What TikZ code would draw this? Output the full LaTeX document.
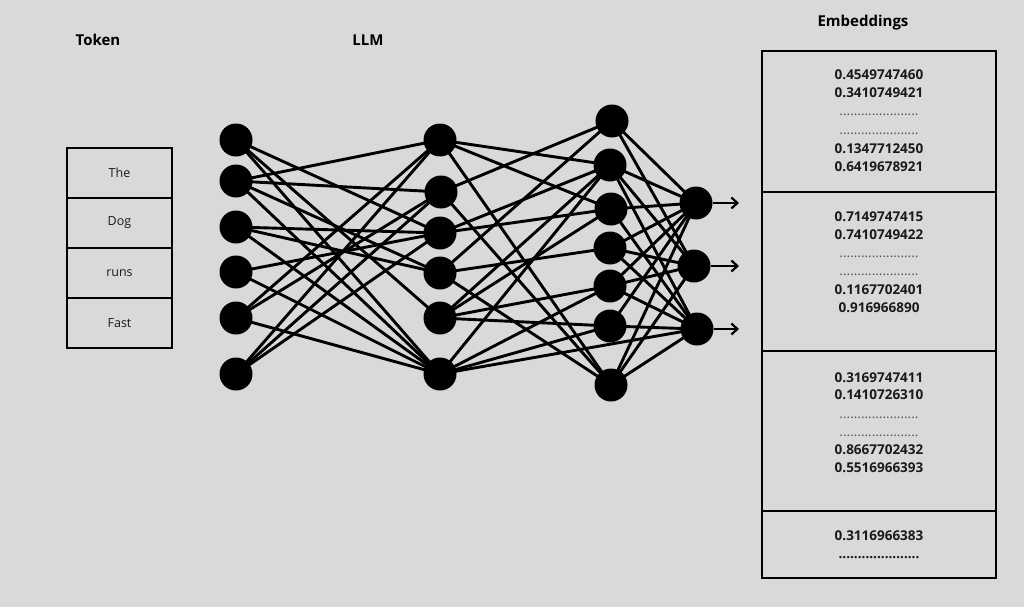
\documentclass[tikz,border=0pt]{standalone}
\usepackage{fontspec}
\setmainfont{Open Sans}
\usetikzlibrary{arrows.meta}
\definecolor{bg}{HTML}{D9D9D9}
\definecolor{ink}{HTML}{1A1A1A}
\begin{document}
\begin{tikzpicture}[x=1pt,y=-1pt,
 neuron/.style={circle,fill=black,minimum size=33pt,inner sep=0pt},
 edge/.style={line width=2.9pt,black},
 tokbox/.style={draw=black,line width=1.6pt,minimum width=105pt,minimum height=50pt,inner sep=0pt,anchor=north,font=\fontsize{12.5}{14}\selectfont,text=ink},
 embbox/.style={draw=black,line width=1.6pt,minimum width=234pt,inner sep=0pt,anchor=north},
 head/.style={font=\fontsize{15}{18}\selectfont\bfseries,text=black},
 num/.style={anchor=base,inner sep=0pt,font=\fontsize{13.5}{16}\selectfont\bfseries,text=ink},
 dotline/.style={anchor=base,inner sep=0pt,font=\fontsize{13.5}{16}\selectfont,text=ink!75},
 bdotline/.style={anchor=base,inner sep=0pt,font=\fontsize{13.5}{16}\selectfont\bfseries,text=ink},
 outarrow/.style={line width=2.9pt,-{Straight Barb[length=6pt,width=11pt,line width=2.2pt]}}
]
\fill[bg] (0,0) rectangle (1024,607);
\useasboundingbox (0,0) rectangle (1024,607);

% headings
\node[head] (htok) at (98,40) {Token};
\node[head] (hllm) at (368,40) {LLM};
\node[head] (hemb) at (863,23) {Embeddings};

% tokens
\node[tokbox] (t1) at (119.5,147) {The};
\node[tokbox] (t2) at (119.5,197) {Dog};
\node[tokbox] (t3) at (119.5,247) {runs};
\node[tokbox] (t4) at (119.5,297) {Fast};

% network nodes
\node[neuron] (a1) at (236,140) {};
\node[neuron] (a2) at (236,181) {};
\node[neuron] (a3) at (236,227) {};
\node[neuron] (a4) at (236,272) {};
\node[neuron] (a5) at (236,318) {};
\node[neuron] (a6) at (236,374) {};
\node[neuron] (b1) at (440,140) {};
\node[neuron] (b2) at (441,192) {};
\node[neuron] (b3) at (440,233) {};
\node[neuron] (b4) at (440,273) {};
\node[neuron] (b5) at (440,318) {};
\node[neuron] (b6) at (440,374) {};
\node[neuron] (c1) at (612,121) {};
\node[neuron] (c2) at (610,165) {};
\node[neuron] (c3) at (611,209) {};
\node[neuron] (c4) at (610,248) {};
\node[neuron] (c5) at (610,286) {};
\node[neuron] (c6) at (610,326) {};
\node[neuron] (c7) at (611,385) {};
\node[neuron] (d1) at (696,203) {};
\node[neuron] (d2) at (694,266) {};
\node[neuron] (d3) at (697,329) {};

% connections
\foreach \s/\t in {a1/b3,a1/b5,a1/b6,
                   a2/b1,a2/b2,a2/b4,a2/b6,
                   a3/b3,a3/b4,a3/b6,
                   a4/b3,a4/b6,
                   a5/b1,a5/b2,a5/b6,
                   a6/b1,a6/b2,a6/b3,
                   b1/c2,b1/c3,b1/c7,
                   b2/c1,b2/c7,
                   b3/c2,b3/c3,
                   b4/c1,b4/c4,b4/c7,
                   b5/c2,b5/c3,b5/c5,b5/c6,
                   b6/c2,b6/c5,b6/c6,b6/d3,
                   c1/d1,c1/d2,
                   c2/d1,c2/d2,c2/d3,
                   c3/d1,c3/d3,
                   c4/d1,c4/d2,c4/d3,
                   c5/d1,c5/d2,c5/d3,
                   c6/d1,c6/d3,
                   c7/d1,c7/d2,c7/d3}
  \draw[edge] (\s.center) -- (\t.center);

% outputs
\coordinate (o1) at (739,203);
\coordinate (o2) at (739,266);
\coordinate (o3) at (739,329);
\draw[outarrow] (d1) -- (o1);
\draw[outarrow] (d2) -- (o2);
\draw[outarrow] (d3) -- (o3);

% embeddings boxes
\node[embbox,minimum height=141pt] (e1) at (879,50) {};
\node[embbox,minimum height=159pt] (e2) at (879,191) {};
\node[embbox,minimum height=160pt] (e3) at (879,350) {};
\node[embbox,minimum height=67pt] (e4) at (879,510) {};

% section 1
\node[num] (s1a) at (879,80) {0.4549747460};
\node[num] (s1b) at (879,98) {0.3410749421};
\node[dotline] (s1c) at (879,116) {......................};
\node[dotline] (s1d) at (879,134) {......................};
\node[num] (s1e) at (879,153) {0.1347712450};
\node[num] (s1f) at (879,171) {0.6419678921};
% section 2
\node[num] (s2a) at (879,221) {0.7149747415};
\node[num] (s2b) at (879,239) {0.7410749422};
\node[dotline] (s2c) at (879,257) {......................};
\node[dotline] (s2d) at (879,275) {......................};
\node[num] (s2e) at (879,294) {0.1167702401};
\node[num] (s2f) at (879,312) {0.916966890};
% section 3
\node[num] (s3a) at (879,382) {0.3169747411};
\node[num] (s3b) at (879,399) {0.1410726310};
\node[dotline] (s3c) at (879,418) {......................};
\node[dotline] (s3d) at (879,436) {......................};
\node[num] (s3e) at (879,454) {0.8667702432};
\node[num] (s3f) at (879,472) {0.5516966393};
% section 4
\node[num] (s4a) at (879,540) {0.3116966383};
\node[bdotline] (s4b) at (879,558) {.....................};
\end{tikzpicture}
\end{document}
